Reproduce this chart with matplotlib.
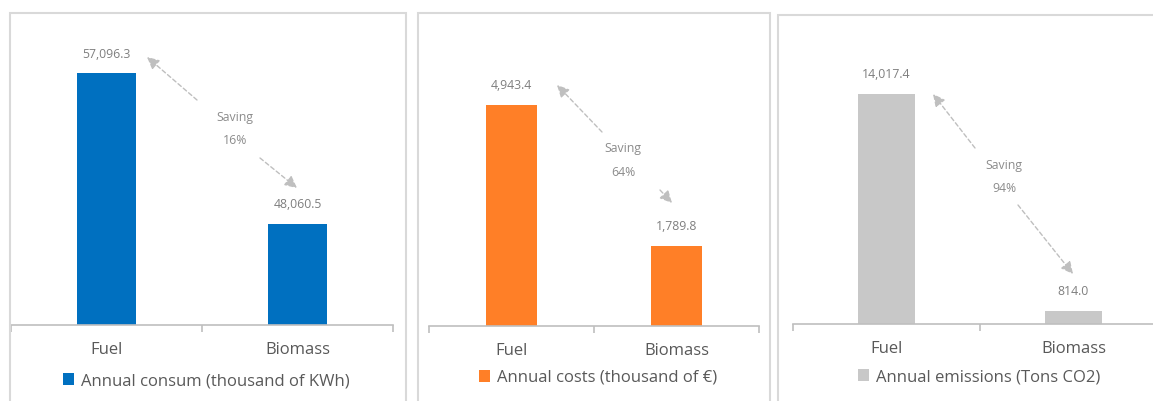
import matplotlib
matplotlib.use("Agg")
import matplotlib.pyplot as plt
from matplotlib.patches import Rectangle

W, H = 1153, 401

categories = ["Fuel", "Biomass"]
consum = [57096.3, 48060.5]
costs = [4943.4, 1789.8]
emissions = [14017.4, 814.0]
savings = ["16%", "64%", "94%"]
series_names = ["Annual consum (thousand of KWh)",
                "Annual costs (thousand of €)",
                "Annual emissions (Tons CO2)"]

plt.rcParams['font.family'] = ['Open Sans', 'DejaVu Sans']

fig = plt.figure(figsize=(W / 100, H / 100), dpi=100)


def px(x, y):
    # image pixel (top-left origin) -> figure pixel
    return (x, H - y)


def frac(x, y):
    return (x / W, (H - y) / H)


# panel frames
for x0, y0, x1 in [(10, 13, 406), (418, 13, 770), (778, 15, 1160)]:
    fig.patches.append(Rectangle(frac(x0, H + 5), (x1 - x0) / W, (H + 5 - y0) / H,
                                 transform=fig.transFigure, fill=False,
                                 edgecolor="#D9D9D9", linewidth=1.5))

panels = [
    # values, color, axis left/right/bottom px, ylim, legend center
    (consum, "#0070C0", (11, 393, 325), (42000, 60000), (206, 381)),
    (costs, "#FF7F27", (429, 759, 326), (0, 6730), (598, 378)),
    (emissions, "#C8C8C8", (793, 1167, 324), (0, 18220), (979, 377)),
]

arrows = [
    [((197, 100), (147, 57)), ((260, 158), (297, 188))],
    [((602, 132), (557, 85)), ((660, 190), (672, 203))],
    [((975, 148), (933, 94)), ((1018, 205), (1073, 274))],
]
saving_pos = [(235, 118), (623, 149), (1004, 166)]

for i, (vals, color, (l, r, b), ylim, leg) in enumerate(panels):
    top = 25
    ax = fig.add_axes([l / W, (H - b) / H, (r - l) / W, (b - top) / H])
    ax.patch.set_alpha(0)
    bars = ax.bar(range(len(categories)), vals, width=0.31, color=color,
                  label=series_names[i], zorder=2)
    ax.set_xlim(-0.5, 1.5)
    ax.set_ylim(*ylim)
    ax.bar_label(bars, labels=[f"{v:,.1f}" for v in vals], padding=9,
                 fontsize=8.8, color="#7F7F7F")
    for s in ["top", "left", "right"]:
        ax.spines[s].set_visible(False)
    ax.spines["bottom"].set_color("#BFBFBF")
    ax.spines["bottom"].set_linewidth(1.2)
    ax.set_yticks([])
    ax.set_xticks(range(len(categories)))
    ax.set_xticklabels(categories, fontsize=12, color="#595959")
    ax.tick_params(axis="x", which="major", length=0, pad=12)
    ax.set_xticks([-0.5, 0.5, 1.5], minor=True)
    ax.tick_params(axis="x", which="minor", length=5, color="#BFBFBF", width=1.2)

    ax.legend(loc="center", bbox_to_anchor=frac(*leg), bbox_transform=fig.transFigure,
              frameon=False, fontsize=12, labelcolor="#595959",
              handlelength=0.7, handleheight=0.7, handletextpad=0.4)

    for start, end in arrows[i]:
        ax.annotate("", xy=px(*end), xytext=px(*start),
                    xycoords="figure pixels", textcoords="figure pixels",
                    arrowprops=dict(arrowstyle="-|>", color="#BFBFBF", lw=1,
                                    linestyle=(0, (3, 2)), mutation_scale=18,
                                    shrinkA=0, shrinkB=0))
    sx, sy = saving_pos[i]
    fig.text(*frac(sx, sy), "Saving", ha="center", va="center", fontsize=8.8, color="#8C8C8C")
    fig.text(*frac(sx, sy + 23), savings[i], ha="center", va="center", fontsize=8.8, color="#8C8C8C")

fig.savefig("out.png", dpi=100)
